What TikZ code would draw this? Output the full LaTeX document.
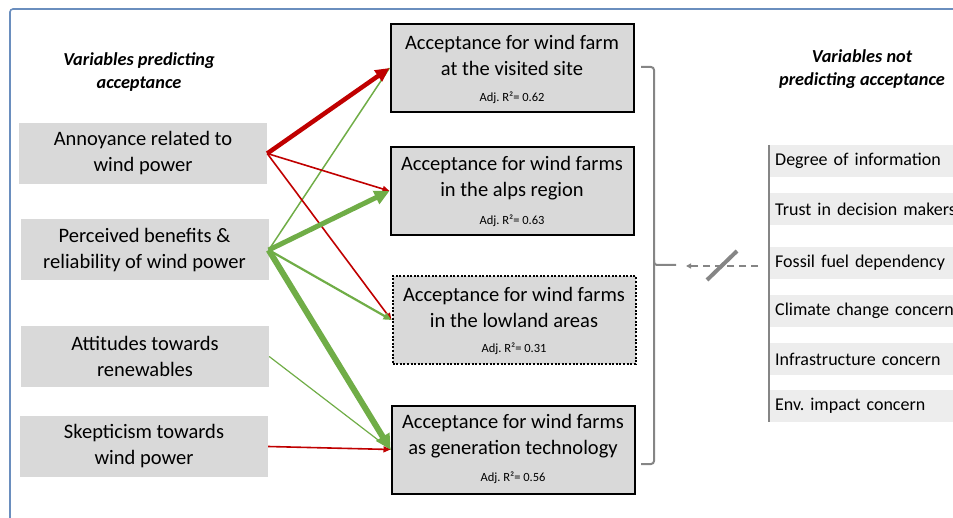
\documentclass[tikz,border=0pt]{standalone}
\usepackage{fontspec}
\setmainfont{Carlito}
\usetikzlibrary{arrows.meta}
\definecolor{myred}{HTML}{C00000}
\definecolor{mygreen}{HTML}{70AD47}
\definecolor{boxgray}{HTML}{D9D9D9}
\definecolor{listgray}{HTML}{EDEDED}
\definecolor{brgray}{HTML}{858585}
\definecolor{frameblue}{HTML}{6A8EBE}
\tikzset{
  predbox/.style={fill=boxgray, minimum width=248pt, minimum height=61pt, inner sep=0pt, align=center, font=\fontsize{20.5}{26}\selectfont},
  accbox/.style={fill=boxgray, draw=black, line width=2pt, minimum width=243pt, minimum height=88pt, inner sep=0pt},
  accdot/.style={fill=boxgray, draw=black, line width=2pt, dash pattern=on 2pt off 1.6pt, minimum width=243pt, minimum height=88pt, inner sep=0pt},
  acctext/.style={align=center, font=\fontsize{20.5}{26}\selectfont, inner sep=0pt},
  adjtext/.style={font=\fontsize{12.5}{14}\selectfont, inner sep=0pt},
  listbox/.style={fill=listgray, anchor=west, text width=200pt, align=left, inner xsep=6pt, inner ysep=0pt, minimum height=32pt, font=\fontsize{18}{21}\selectfont},
  titletext/.style={align=center, font=\fontsize{18.3}{22.5}\selectfont\bfseries\itshape, inner sep=0pt},
  rthick/.style={draw=myred, line width=4.5pt, -{Triangle[length=14pt,width=13pt]}},
  rthin/.style={draw=myred, line width=1.6pt, -{Triangle[length=7pt,width=6pt]}},
  gthin/.style={draw=mygreen, line width=1.5pt},
  gmid/.style={draw=mygreen, line width=2.2pt, -{Triangle[length=8pt,width=7pt]}},
  gthick/.style={draw=mygreen, line width=5pt, -{Triangle[length=15pt,width=14pt]}},
  gthicker/.style={draw=mygreen, line width=6pt, -{Triangle[length=15pt,width=15pt]}},
  gfine/.style={draw=mygreen, line width=1.2pt},
  bracket/.style={draw=brgray, line width=2pt, rounded corners=3pt},
  dasharrow/.style={draw=brgray, line width=2pt, dash pattern=on 7pt off 5pt, -{Triangle[length=5pt,width=5pt]}},
}
\begin{document}
\begin{tikzpicture}[x=1pt,y=-1pt]
\useasboundingbox (0,0) rectangle (953,518);
\clip (0,0) rectangle (953,518);
% frame
\draw[frameblue, line width=1.6pt, rounded corners=3pt] (10,540) -- (10,9) -- (980,9);

% titles
\node[titletext] (ltitle) at (139,72) {Variables predicting\\acceptance};
\node[titletext] (rtitle) at (862,69) {Variables not\\predicting acceptance};

% predictor boxes
\node[predbox] (ann) at (143,153.5) {Annoyance related to\\wind power};
\node[predbox] (ben) at (144.5,250) {Perceived benefits \&\\reliability of wind power};
\node[predbox] (att) at (145,356.5) {Attitudes towards\\renewables};
\node[predbox] (ske) at (144,446.5) {Skepticism towards\\wind power};

% acceptance boxes
\node[accbox] (c1) at (512,68) {};
\node[acctext] (c1t) at (512,55) {Acceptance for wind farm\\at the visited site};
\node[adjtext] (c1a) at (512,98) {Adj.\ R²= 0.62};

\node[accbox] (c2) at (512,191) {};
\node[acctext] (c2t) at (512,178) {Acceptance for wind farms\\in the alps region};
\node[adjtext] (c2a) at (512,221) {Adj.\ R²= 0.63};

\node[accdot] (c3) at (514,320) {};
\node[acctext] (c3t) at (514,307) {Acceptance for wind farms\\in the lowland areas};
\node[adjtext] (c3a) at (514,349) {Adj.\ R²= 0.31};

\node[accbox] (c4) at (513,449.5) {};
\node[acctext] (c4t) at (513,436) {Acceptance for wind farms\\as generation technology};
\node[adjtext] (c4a) at (513,478) {Adj.\ R²= 0.56};

% connectors
\draw[gthin] (ben.east) -- (c1.west);
\draw[rthick] (ann.east) -- (c1.west);
\draw[rthin] (ann.east) -- (c2.west);
\draw[rthin] (ann.east) -- (c3.west);
\draw[gthick] (ben.east) -- (c2.west);
\draw[gmid] (ben.east) -- (c3.west);
\draw[gfine] (att.east) -- (c4.west);
\draw[gthicker] (ben.east) -- (c4.west);
\draw[rthin] (ske.east) -- (c4.west);

% bracket
\coordinate (brtop) at (641,67);
\coordinate (brbot) at (641,464);
\coordinate (brtip) at (676,265);
\draw[bracket] (brtop) -- (654,67) -- (654,265) -- (brtip);
\draw[bracket] (654,260) -- (654,464) -- (brbot);

% right list
\node[listbox] (v1) at (769,161) {Degree of information};
\node[listbox] (v2) at (769,209.5) {Trust in decision makers};
\node[listbox] (v3) at (769,263) {Fossil fuel dependency};
\node[listbox] (v4) at (769,311) {Climate change concern};
\node[listbox] (v5) at (769,359) {Infrastructure concern};
\node[listbox] (v6) at (769,406) {Env.\ impact concern};
\draw[brgray, line width=1.6pt] (v1.north west) -- (v6.south west);

% not-predicting arrow
\coordinate (dstart) at (758,266);
\coordinate (dend) at (686,266);
\draw[dasharrow] (dstart) -- (dend);
\coordinate (s1) at (707,280);
\coordinate (s2) at (737,251);
\draw[brgray, line width=4pt] (s1) -- (s2);
\end{tikzpicture}
\end{document}
